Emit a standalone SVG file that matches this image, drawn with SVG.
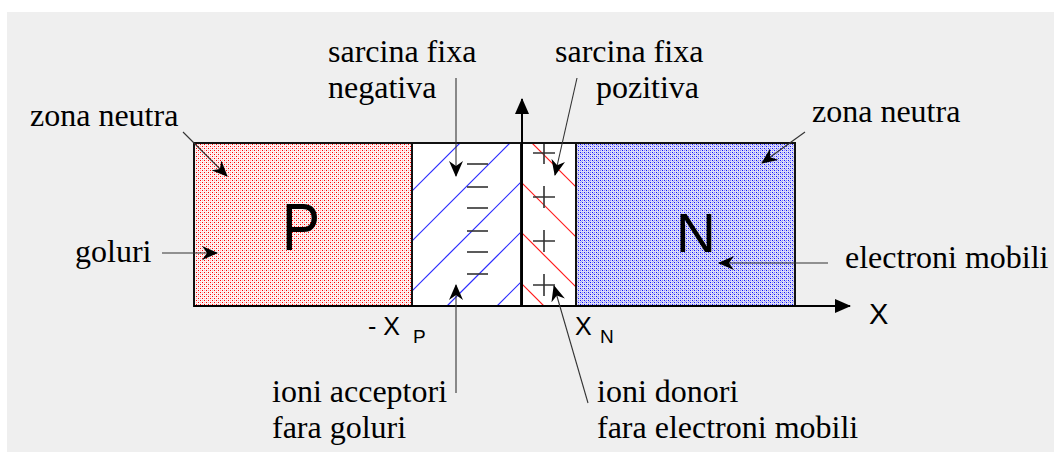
<svg xmlns="http://www.w3.org/2000/svg" width="1054" height="452" viewBox="0 0 1054 452">
<style>
.serif{font-family:"Liberation Serif","Times New Roman",serif;font-size:32px;fill:#000}
.sans{font-family:"Liberation Sans",Arial,sans-serif;fill:#000}
.conn{stroke:#333;stroke-width:1.1;fill:none}
.border{fill:none;stroke:#111;stroke-width:2}
.hb{stroke:#2b2bff;stroke-width:1.2}
.hr{stroke:#ff1a1a;stroke-width:1.2}
.sign{stroke:#333;stroke-width:1.6;fill:none}
</style>
<defs>
<pattern id="pp" width="4" height="4" patternUnits="userSpaceOnUse">
<rect width="4" height="4" fill="#fff2f2"/>
<rect x="0" y="0" width="1" height="1" fill="#ff0000"/>
<rect x="2" y="2" width="1" height="1" fill="#ff0000"/>
<rect x="2" y="0" width="1" height="1" fill="#f8b4b4"/>
<rect x="0" y="2" width="1" height="1" fill="#f8b4b4"/>
</pattern>
<pattern id="pn" width="4" height="4" patternUnits="userSpaceOnUse">
<rect width="4" height="4" fill="#dcdcfa"/>
<rect x="0" y="0" width="1" height="1" fill="#1010ff"/>
<rect x="2" y="2" width="1" height="1" fill="#1010ff"/>
<rect x="2" y="0" width="1" height="1" fill="#8a8aef"/>
<rect x="0" y="2" width="1" height="1" fill="#8a8aef"/>
<rect x="1" y="1" width="1" height="1" fill="#a8a8f2"/>
</pattern>
<marker id="ah" viewBox="0 0 16 14" refX="15" refY="7" markerWidth="16" markerHeight="14" orient="auto" markerUnits="userSpaceOnUse">
<path d="M0,0 L16,7 L0,14 L5,7 z" fill="#000"/>
</marker>
<marker id="tri" viewBox="0 0 16 14" refX="15" refY="7" markerWidth="16" markerHeight="14" orient="auto" markerUnits="userSpaceOnUse">
<path d="M0,0 L16,7 L0,14 z" fill="#000"/>
</marker>
<clipPath id="cneg"><rect x="412" y="143" width="109" height="163"/></clipPath>
<clipPath id="cpos"><rect x="521" y="143" width="55" height="163"/></clipPath>
</defs>
<rect width="1054" height="452" fill="#fff"/>
<rect x="7" y="12" width="1047" height="440" fill="#efefef"/>

<g id="region-p">
<rect x="194" y="143" width="218" height="163" fill="url(#pp)"/>
<rect x="194" y="143" width="218" height="163" class="border"/>
<text class="sans" x="0" y="0" font-size="67" transform="translate(282,250) scale(0.85,1)">P</text>
</g>

<g id="region-neg">
<rect x="412" y="143" width="109" height="163" fill="#fff"/>
<g clip-path="url(#cneg)">
<line class="hb" x1="403" y1="200" x2="470" y2="133"/>
<line class="hb" x1="403" y1="250" x2="520" y2="133"/>
<line class="hb" x1="403" y1="300" x2="530" y2="173"/>
<line class="hb" x1="437" y1="316" x2="530" y2="223"/>
<line class="hb" x1="487" y1="316" x2="530" y2="273"/>
</g>
<line class="sign" x1="467" y1="164" x2="488" y2="164"/>
<line class="sign" x1="467" y1="187" x2="488" y2="187"/>
<line class="sign" x1="467" y1="208" x2="488" y2="208"/>
<line class="sign" x1="467" y1="231" x2="488" y2="231"/>
<line class="sign" x1="467" y1="252" x2="488" y2="252"/>
<line class="sign" x1="467" y1="274" x2="488" y2="274"/>
<rect x="412" y="143" width="109" height="163" class="border"/>
</g>

<g id="region-pos">
<rect x="521" y="143" width="55" height="163" fill="#fff"/>
<g clip-path="url(#cpos)">
<line class="hr" x1="522" y1="133" x2="586" y2="197"/>
<line class="hr" x1="513" y1="174" x2="586" y2="247"/>
<line class="hr" x1="513" y1="224" x2="586" y2="297"/>
<line class="hr" x1="513" y1="275" x2="556" y2="318"/>
</g>
<path class="sign" d="M533,153 H555 M544,143 V164"/>
<path class="sign" d="M533,197 H555 M544,186 V208"/>
<path class="sign" d="M533,241 H555 M544,230 V252"/>
<path class="sign" d="M533,285 H555 M544,274 V296"/>
<rect x="521" y="143" width="55" height="163" class="border"/>
</g>

<g id="region-n">
<rect x="576" y="143" width="219" height="163" fill="url(#pn)"/>
<rect x="576" y="143" width="219" height="163" class="border"/>
<text class="sans" x="676" y="252" font-size="55">N</text>
</g>

<g id="axes">
<line x1="194" y1="306" x2="850" y2="306" stroke="#000" stroke-width="2" marker-end="url(#tri)"/>
<line x1="522" y1="306" x2="522" y2="99" stroke="#000" stroke-width="2" marker-end="url(#tri)"/>
<text class="sans" x="869" y="324" font-size="29">X</text>
<text class="sans" x="368" y="335" font-size="25">- X</text>
<text class="sans" x="413" y="343" font-size="19">P</text>
<text class="sans" x="575" y="335" font-size="25">X</text>
<text class="sans" x="600" y="343" font-size="19">N</text>
</g>

<g id="labels">
<text class="serif" x="30" y="126">zona neutra</text>
<text class="serif" x="75" y="262">goluri</text>
<text class="serif" x="328" y="62">sarcina fixa</text>
<text class="serif" x="328" y="98">negativa</text>
<text class="serif" x="555" y="62">sarcina fixa</text>
<text class="serif" x="699" y="98" text-anchor="end">pozitiva</text>
<text class="serif" x="812" y="122">zona neutra</text>
<text class="serif" x="845" y="268">electroni mobili</text>
<text class="serif" x="272" y="402">ioni acceptori</text>
<text class="serif" x="272" y="438">fara goluri</text>
<text class="serif" x="597" y="402">ioni donori</text>
<text class="serif" x="597" y="438">fara electroni mobili</text>
</g>

<g id="connectors">
<line class="conn" x1="183" y1="132" x2="227" y2="176" marker-end="url(#ah)"/>
<line class="conn" x1="162" y1="253" x2="217" y2="253" marker-end="url(#ah)"/>
<line class="conn" x1="805" y1="132" x2="762" y2="163" marker-end="url(#ah)"/>
<line class="conn" x1="828" y1="263" x2="719" y2="263" marker-end="url(#ah)"/>
<line class="conn" x1="456" y1="78" x2="456" y2="176" marker-end="url(#ah)"/>
<line class="conn" x1="577" y1="78" x2="555" y2="175" marker-end="url(#ah)"/>
<line class="conn" x1="456" y1="393" x2="456" y2="285" marker-end="url(#ah)"/>
<line class="conn" x1="588" y1="403" x2="554" y2="286" marker-end="url(#ah)"/>
</g>
</svg>
